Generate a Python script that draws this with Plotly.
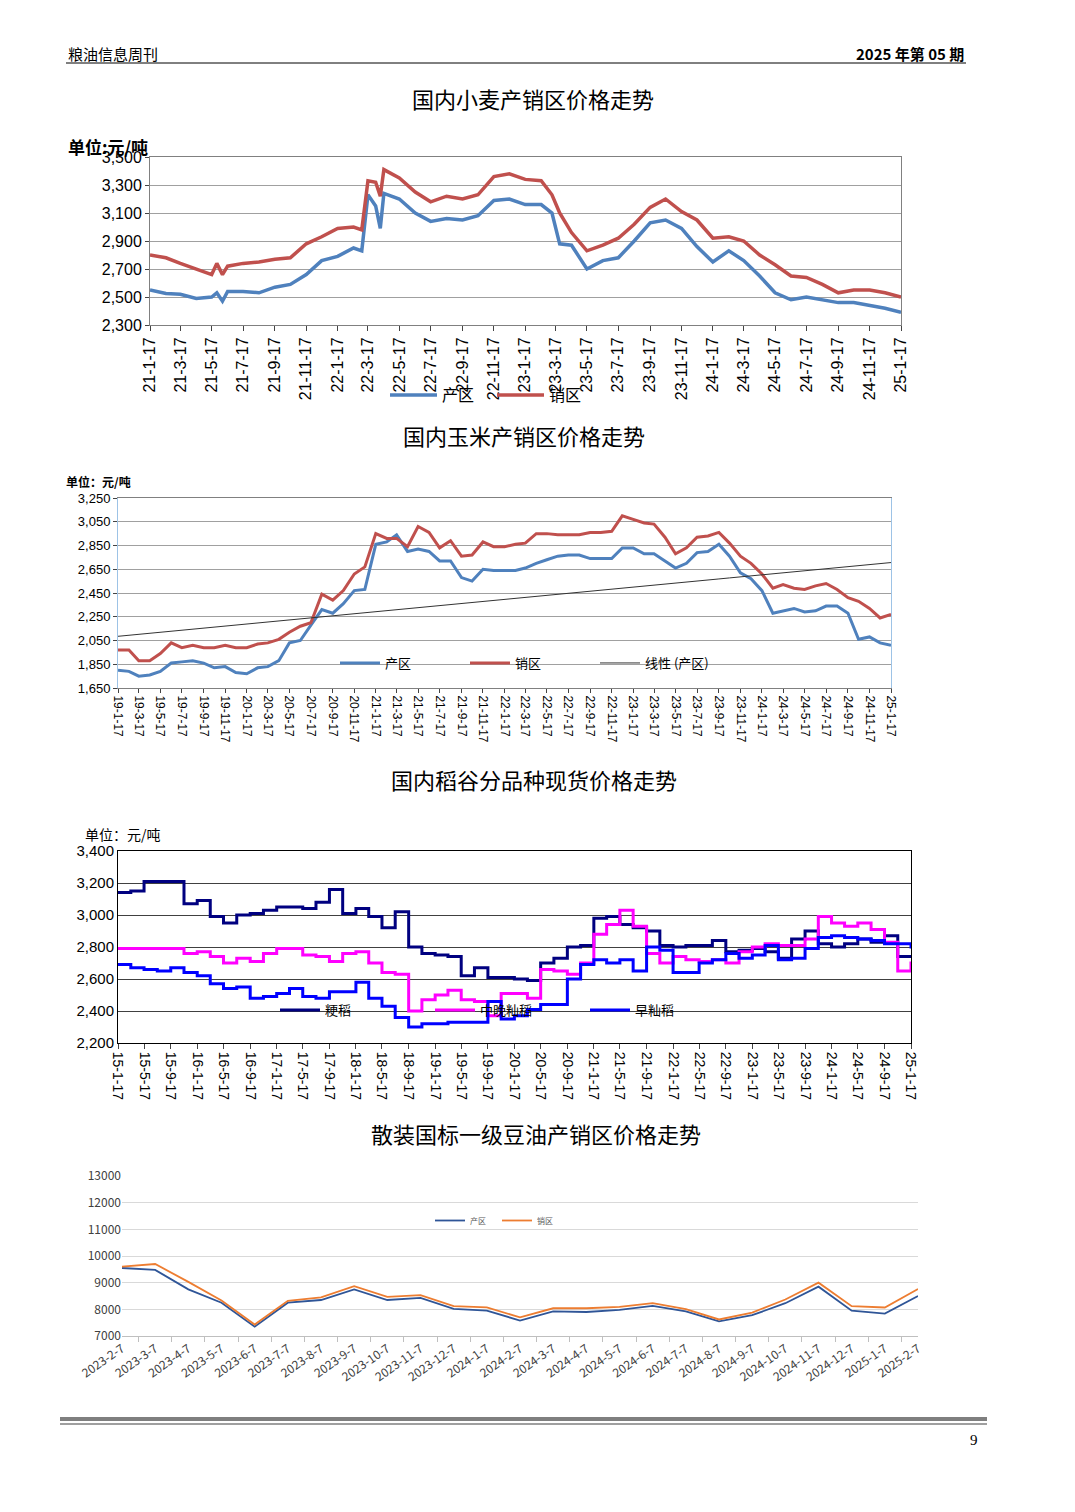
import plotly.graph_objects as go
import numpy as np
import pandas as pd

# ---------- Chart 1: wheat ----------
wheat_dates = ["2021-01-17","2021-02-17","2021-03-17","2021-04-17","2021-05-17","2021-05-27","2021-06-07","2021-06-17","2021-07-17","2021-08-17",
 "2021-09-17","2021-10-17","2021-11-17","2021-12-17","2022-01-17","2022-02-17","2022-03-05","2022-03-17","2022-04-01","2022-04-10",
 "2022-04-17","2022-05-17","2022-06-17","2022-07-17","2022-08-17","2022-09-17","2022-10-17","2022-11-17","2022-12-17","2023-01-17",
 "2023-02-17","2023-03-10","2023-03-25","2023-04-17","2023-05-17","2023-06-17","2023-07-17","2023-08-17","2023-09-17","2023-10-17",
 "2023-11-17","2023-12-17","2024-01-17","2024-02-17","2024-03-17","2024-04-17","2024-05-17","2024-06-17","2024-07-17","2024-08-17",
 "2024-09-17","2024-10-17","2024-11-17","2024-12-17","2025-01-17"]
wheat_prod = [2550,2525,2520,2490,2500,2530,2470,2540,2540,2530,
 2570,2590,2660,2760,2790,2850,2830,3230,3150,2990,
 3240,3200,3100,3040,3060,3050,3080,3190,3200,3160,
 3160,3100,2880,2870,2700,2760,2780,2900,3030,3050,
 2990,2860,2750,2830,2760,2650,2530,2480,2500,2480,
 2460,2460,2440,2420,2390]
wheat_sale = [2800,2780,2740,2700,2660,2740,2660,2720,2740,2750,
 2770,2780,2880,2930,2990,3000,2980,3330,3320,3220,
 3410,3350,3250,3180,3220,3200,3230,3360,3380,3340,
 3330,3230,3100,2960,2830,2870,2920,3020,3140,3200,
 3110,3050,2920,2930,2900,2800,2730,2650,2640,2590,
 2530,2550,2550,2530,2500]
wheat_ticks = pd.date_range("2021-01-01", "2025-01-01", freq="2MS") + pd.Timedelta(days=16)
wheat_ticktext = [f"{d.year%100}-{d.month}-17" for d in wheat_ticks]

# ---------- Chart 2: corn ----------
corn_dates = (pd.date_range("2019-01-01", "2025-01-01", freq="MS") + pd.Timedelta(days=16))
corn_prod = [1800,1790,1750,1760,1790,1860,1870,1880,1860,1820,1830,1780,
 1770,1820,1830,1880,2030,2050,2180,2310,2280,2360,2470,2480,
 2860,2880,2940,2800,2820,2800,2720,2720,2580,2550,2650,2640,
 2640,2640,2660,2700,2730,2760,2770,2770,2740,2740,2740,2830,
 2830,2780,2780,2720,2660,2700,2790,2800,2860,2760,2620,2570,
 2470,2280,2300,2320,2290,2300,2340,2340,2280,2060,2080,2030,
 2010]
corn_sale = [1970,1970,1880,1880,1940,2030,1990,2010,1990,1990,2010,1990,
 1990,2020,2030,2060,2120,2170,2200,2440,2390,2470,2610,2670,
 2950,2910,2910,2840,3010,2960,2830,2890,2760,2770,2880,2840,
 2840,2860,2870,2950,2950,2940,2940,2940,2960,2960,2970,3100,
 3070,3040,3030,2920,2780,2830,2920,2930,2960,2870,2760,2700,
 2610,2490,2520,2490,2480,2510,2530,2480,2410,2380,2320,2240,
 2270]
corn_ticks = pd.date_range("2019-01-01", "2025-01-01", freq="2MS") + pd.Timedelta(days=16)
corn_ticktext = [f"{d.year%100}-{d.month}-17" for d in corn_ticks]

# ---------- Chart 3: rice ----------
rice_dates = pd.date_range("2015-01-01", "2025-01-01", freq="2MS") + pd.Timedelta(days=16)
rice_japonica = [3140,3150,3210,3210,3210,3070,3090,2990,2950,3000,3010,3030,
 3050,3050,3040,3080,3160,3010,3040,2990,2920,3020,2800,2760,
 2750,2740,2620,2670,2610,2610,2600,2590,2700,2730,2800,2810,
 2980,2990,2940,2920,2900,2810,2800,2810,2810,2840,2770,2780,
 2790,2770,2730,2850,2900,2820,2800,2820,2850,2830,2870,2740,2750]
rice_midlate = [2790,2790,2790,2790,2790,2760,2770,2740,2700,2730,2710,2760,
 2790,2790,2750,2740,2710,2760,2770,2700,2640,2630,2400,2470,
 2500,2530,2470,2460,2370,2510,2510,2480,2660,2650,2630,2700,
 2880,2940,3030,2930,2760,2700,2740,2720,2710,2720,2700,2770,
 2800,2820,2810,2810,2850,2990,2950,2930,2950,2910,2830,2650,2710]
rice_early = [2690,2670,2660,2650,2670,2640,2620,2570,2540,2550,2480,2490,
 2510,2540,2490,2480,2520,2520,2580,2480,2430,2360,2300,2320,
 2320,2330,2330,2330,2460,2350,2370,2410,2440,2440,2600,2690,
 2720,2700,2720,2650,2800,2780,2640,2640,2700,2720,2760,2730,
 2750,2810,2720,2730,2790,2860,2870,2860,2850,2840,2820,2820,2790]
rice_ticks = pd.date_range("2015-01-01", "2025-01-01", freq="4MS") + pd.Timedelta(days=16)
rice_ticktext = [f"{d.year%100}-{d.month}-17" for d in rice_ticks]

# ---------- Chart 4: soybean oil ----------
soy_cats = ["2023-2-7","2023-3-7","2023-4-7","2023-5-7","2023-6-7","2023-7-7","2023-8-7","2023-9-7","2023-10-7","2023-11-7",
 "2023-12-7","2024-1-7","2024-2-7","2024-3-7","2024-4-7","2024-5-7","2024-6-7","2024-7-7","2024-8-7","2024-9-7",
 "2024-10-7","2024-11-7","2024-12-7","2025-1-7","2025-2-7"]
soy_prod = [9550,9480,8750,8250,7350,8250,8350,8750,8350,8430,8020,7950,7580,7920,7900,7980,8130,7920,7550,7780,8230,8850,7950,7840,8500]
soy_sale = [9600,9700,9030,8330,7430,8320,8450,8870,8470,8530,8120,8070,7700,8040,8040,8090,8230,8010,7620,7880,8370,9000,8120,8070,8760]

W, H = 1075, 1512
def px(x): return x / W
def py(y): return 1 - y / H

CJK = "Noto Sans CJK SC"
fig = go.Figure()

fig.add_trace(go.Scatter(x=wheat_dates, y=wheat_prod, name="产区", mode="lines", line=dict(color="#4F81BD", width=3.5), xaxis="x", yaxis="y", legend="legend"))
fig.add_trace(go.Scatter(x=wheat_dates, y=wheat_sale, name="销区", mode="lines", line=dict(color="#C0504D", width=3.5), xaxis="x", yaxis="y", legend="legend"))
fit = np.polyfit(np.arange(len(corn_prod)), corn_prod, 1)
trend = np.polyval(fit, np.arange(len(corn_prod)))
fig.add_trace(go.Scatter(x=corn_dates, y=corn_prod, name="产区", mode="lines", line=dict(color="#4F81BD", width=3), xaxis="x2", yaxis="y2", legend="legend2"))
fig.add_trace(go.Scatter(x=corn_dates, y=corn_sale, name="销区", mode="lines", line=dict(color="#C0504D", width=3), xaxis="x2", yaxis="y2", legend="legend2"))
fig.add_trace(go.Scatter(x=corn_dates, y=trend, name="线性 (产区)", mode="lines", line=dict(color="#333333", width=1), xaxis="x2", yaxis="y2", legend="legend2"))
fig.add_trace(go.Scatter(x=rice_dates, y=rice_japonica, name="粳稻", mode="lines", line=dict(color="#000080", width=3, shape="hv"), xaxis="x3", yaxis="y3", legend="legend3"))
fig.add_trace(go.Scatter(x=rice_dates, y=rice_midlate, name="中晚籼稻", mode="lines", line=dict(color="#FF00FF", width=3, shape="hv"), xaxis="x3", yaxis="y3", legend="legend3"))
fig.add_trace(go.Scatter(x=rice_dates, y=rice_early, name="早籼稻", mode="lines", line=dict(color="#0000FF", width=3, shape="hv"), xaxis="x3", yaxis="y3", legend="legend3"))
fig.add_trace(go.Scatter(x=soy_cats, y=soy_prod, name="产区", mode="lines", line=dict(color="#2F5597", width=1.8), xaxis="x4", yaxis="y4", legend="legend4"))
fig.add_trace(go.Scatter(x=soy_cats, y=soy_sale, name="销区", mode="lines", line=dict(color="#ED7D31", width=1.8), xaxis="x4", yaxis="y4", legend="legend4"))

tf = dict(family="Arial, Liberation Sans", color="black")

fig.update_layout(
    width=W, height=H, margin=dict(l=0, r=0, t=0, b=0, autoexpand=False),
    paper_bgcolor="white", plot_bgcolor="white",
    font=dict(family=CJK, color="black"),
    xaxis=dict(domain=[px(150), px(901)], anchor="y", type="date", range=["2021-01-17", "2025-01-17"],
               tickvals=wheat_ticks, ticktext=wheat_ticktext, tickangle=-90, ticks="outside", ticklen=5,
               tickfont=dict(size=16, **tf), showgrid=False, showline=True, linecolor="#808080", mirror=True, automargin=False),
    yaxis=dict(domain=[py(325), py(157)], anchor="x", range=[2300, 3500], tick0=2300, dtick=200, tickformat=",",
               tickfont=dict(size=16, **tf), gridcolor="#A0A0A0", ticks="outside", ticklen=4,
               showline=True, linecolor="#808080", mirror=True, automargin=False),
    xaxis2=dict(domain=[px(118), px(891)], anchor="y2", type="date", range=["2019-01-17", "2025-01-17"],
                tickvals=corn_ticks, ticktext=corn_ticktext, tickangle=90, ticks="outside", ticklen=4,
                tickfont=dict(size=12, **tf), showgrid=False, showline=True, linecolor="#808080", mirror=True, automargin=False),
    yaxis2=dict(domain=[py(688), py(498)], anchor="x2", range=[1650, 3250], tick0=1650, dtick=200, tickformat=",",
                tickfont=dict(size=13, **tf), gridcolor="#A0A0A0", ticks="outside", ticklen=4,
                showline=True, linecolor="#9DC3E6", mirror=True, automargin=False),
    xaxis3=dict(domain=[px(118), px(911)], anchor="y3", type="date", range=["2015-01-17", "2025-01-17"],
                tickvals=rice_ticks, ticktext=rice_ticktext, tickangle=90, ticks="outside", ticklen=5,
                tickfont=dict(size=14, **tf), showgrid=False, showline=True, linecolor="black", mirror=True, automargin=False),
    yaxis3=dict(domain=[py(1043), py(851)], anchor="x3", range=[2200, 3400], dtick=200, tickformat=",",
                tickfont=dict(size=15, **tf), gridcolor="#404040", gridwidth=1.2, showline=True, linecolor="black", mirror=True, automargin=False),
    xaxis4=dict(domain=[px(122), px(918)], anchor="y4", type="category", tickangle=-35, ticks="outside",
                tickson="boundaries", ticklen=5, tickcolor="#BFBFBF", tickfont=dict(size=12, color="#404040", family=CJK),
                showgrid=False, showline=True, linecolor="#BFBFBF", automargin=False),
    yaxis4=dict(domain=[py(1336), py(1176)], anchor="x4", range=[7000, 13000], dtick=1000, tickformat="d",
                tickfont=dict(size=12, color="#404040", family=CJK), gridcolor="#D9D9D9", showline=False, automargin=False),
    legend=dict(orientation="h", x=px(385), y=py(378), xanchor="left", yanchor="top", bgcolor="rgba(0,0,0,0)",
                font=dict(size=16, family=CJK), entrywidth=45, itemwidth=47),
    legend2=dict(orientation="h", x=px(335), y=py(648), xanchor="left", yanchor="top", bgcolor="rgba(0,0,0,0)",
                 font=dict(size=13, family=CJK), entrywidth=75, itemwidth=40),
    legend3=dict(orientation="h", x=px(275), y=py(995), xanchor="left", yanchor="top", bgcolor="rgba(0,0,0,0)",
                 font=dict(size=13, family=CJK), entrywidth=100, itemwidth=40),
    legend4=dict(orientation="h", x=px(430), y=py(1206), xanchor="left", yanchor="top", bgcolor="rgba(0,0,0,0)",
                 font=dict(size=8, color="#595959", family=CJK), entrywidth=22, itemwidth=30),
)

ann = [
    dict(text="粮油信息周刊", x=px(66), y=py(54), xanchor="left", font=dict(size=15)),
    dict(text="<b>2025 年第 05 期</b>", x=px(966), y=py(54), xanchor="right", font=dict(size=15)),
    dict(text="国内小麦产销区价格走势", x=px(533), y=py(98), font=dict(size=22)),
    dict(text="<b>单位:元/吨</b>", x=px(66), y=py(147), xanchor="left", font=dict(size=17)),
    dict(text="国内玉米产销区价格走势", x=px(524), y=py(435), font=dict(size=22)),
    dict(text="<b>单位：元/吨</b>", x=px(64), y=py(481), xanchor="left", font=dict(size=12)),
    dict(text="国内稻谷分品种现货价格走势", x=px(534), y=py(779), font=dict(size=22)),
    dict(text="单位：元/吨", x=px(83), y=py(834), xanchor="left", font=dict(size=14)),
    dict(text="散装国标一级豆油产销区价格走势", x=px(536), y=py(1133), font=dict(size=22)),
    dict(text="9", x=px(980), y=py(1440), font=dict(size=15, family="Liberation Serif")),
]
for a in ann:
    a.update(xref="paper", yref="paper", showarrow=False, yanchor="middle")
fig.update_layout(annotations=ann)

fig.update_layout(shapes=[
    dict(type="line", xref="paper", yref="paper", x0=px(66), x1=px(966), y0=py(63), y1=py(63), line=dict(color="black", width=1)),
    dict(type="line", xref="paper", yref="paper", x0=px(60), x1=px(987), y0=py(1419), y1=py(1419), line=dict(color="#7F7F7F", width=4)),
    dict(type="line", xref="paper", yref="paper", x0=px(60), x1=px(987), y0=py(1424), y1=py(1424), line=dict(color="#7F7F7F", width=1.5)),
])

fig.write_html("out.html", config={"displayModeBar": False},
               post_script="document.body.style.margin='0';document.body.style.overflow='hidden';")
